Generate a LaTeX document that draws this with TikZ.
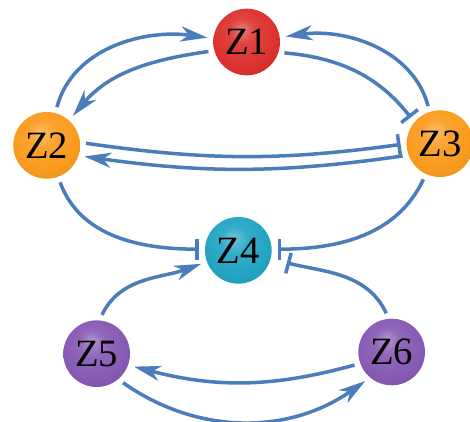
\documentclass[tikz,border=0pt]{standalone}
\usepackage{fontspec}
\setmainfont{Liberation Serif}
\usetikzlibrary{arrows.meta}

\definecolor{linkblue}{RGB}{74,125,185}
\definecolor{zred}{RGB}{220,50,45}
\definecolor{zorange}{RGB}{250,155,30}
\definecolor{zteal}{RGB}{35,165,195}
\definecolor{zpurple}{RGB}{135,90,180}

% a softer ball, bright colour with a small highlight
\makeatletter
\pgfdeclareradialshading[tikz@ball]{glossy}{\pgfqpoint{-4bp}{10bp}}{%
  color(0bp)=(tikz@ball!65!white); color(10bp)=(tikz@ball!92!white);
  color(24bp)=(tikz@ball); color(38bp)=(tikz@ball!88!black);
  color(50bp)=(tikz@ball!68!black)}
\makeatother

\begin{document}
\begin{tikzpicture}[
  every node/.style={font=\fontsize{33}{36}\selectfont},
  zone/.style={circle,ball color=#1,shading=glossy,minimum size=2cm,inner sep=0pt},
  link/.style={linkblue,line width=3pt,shorten <=5pt,shorten >=5pt},
  act/.style={link,-{Stealth[length=23pt,width=13pt,inset=7pt]}},
  inh/.style={link,-{Bar[width=18pt,line width=3pt]}}]

\useasboundingbox (0,0) rectangle (14.1,12.66);

% Top triangle
\node[zone=zred] (z1) at (7.4,11.4) {Z1};
\node[zone=zorange] (z2) at (1.4,8.3) {Z2};
\node[zone=zorange] (z3) at (13.2,8.35) {Z3};

\draw[act] (z2.75) to[out=75,in=172] (z1.174);
\draw[act] (z1.195) to[out=188,in=50] (z2.48);
\draw[act] (z3.108) to[out=105,in=8] (z1.8);
\draw[inh] (z1.-18) to[out=-5,in=128] (z3.140);
\draw[inh] (z2.5) to[bend right=8] (z3.180);
\draw[act] (z3.200) to[bend left=8] (z2.-18);

% Middle
\node[zone=zteal] (z4) at (7.15,5.15) {Z4};

\draw[inh] (z2.-70) to[out=-70,in=180] (z4.178);
\draw[inh] (z3.-115) to[out=-115,in=0] (z4.2);

% Bottom pair
\node[zone=zpurple] (z5) at (2.9,2.05) {Z5};
\node[zone=zpurple] (z6) at (11.75,2.1) {Z6};

\draw[act] (z5.85) to[out=65,in=200] (z4.200);
\draw[inh,shorten >=14pt] (z6.95) to[out=115,in=-15] (z4.-14);
\draw[act] (z6.200) to[bend left=15] (z5.-20);
\draw[act] (z5.-50) to[out=-35,in=-145] (z6.230);

\end{tikzpicture}
\end{document}
